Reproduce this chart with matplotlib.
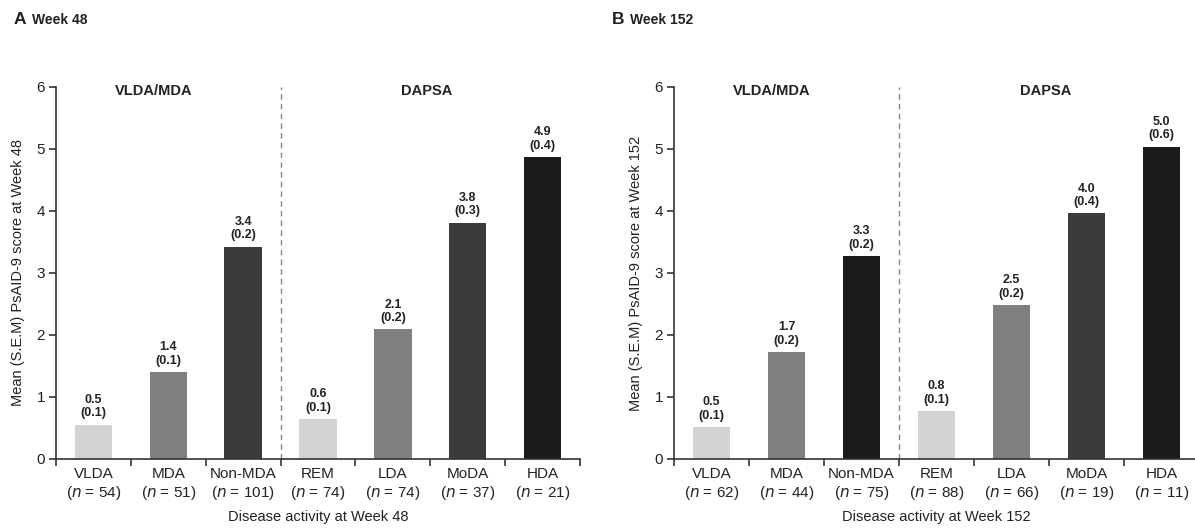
import matplotlib
matplotlib.use("Agg")
import matplotlib.pyplot as plt

plt.rcParams['font.family'] = ['Liberation Sans', 'DejaVu Sans']

categories = ["VLDA", "MDA", "Non-MDA", "REM", "LDA", "MoDA", "HDA"]
n_w48 = [54, 51, 101, 74, 74, 37, 21]
n_w152 = [62, 44, 75, 88, 66, 19, 11]
mean_w48 = [0.55, 1.40, 3.42, 0.64, 2.09, 3.81, 4.87]
sem_w48 = [0.1, 0.1, 0.2, 0.1, 0.2, 0.3, 0.4]
label_mean_w48 = ["0.5", "1.4", "3.4", "0.6", "2.1", "3.8", "4.9"]
mean_w152 = [0.51, 1.72, 3.27, 0.77, 2.48, 3.96, 5.04]
sem_w152 = [0.1, 0.2, 0.2, 0.1, 0.2, 0.4, 0.6]
label_mean_w152 = ["0.5", "1.7", "3.3", "0.8", "2.5", "4.0", "5.0"]
colors_w48 = ["#d3d3d3", "#808080", "#3b3b3b", "#d3d3d3", "#808080", "#3b3b3b", "#1b1b1b"]
colors_w152 = ["#d3d3d3", "#808080", "#1b1b1b", "#d3d3d3", "#808080", "#3b3b3b", "#1b1b1b"]

W, H = 1195, 531
fig = plt.figure(figsize=(W / 100, H / 100), dpi=100)

spine_c = "#333333"


def panel(rect, means, sems, labels, ns, colors, week, letter, letter_x):
    ax = fig.add_axes(rect)
    x = list(range(len(categories)))
    ax.bar(x, means, width=0.5, color=colors, zorder=2)
    for xi, m, s, lab in zip(x, means, sems, labels):
        ax.annotate(f"{lab}\n({s:.1f})", (xi, m), xytext=(0, 4),
                    textcoords="offset points", ha="center", va="bottom",
                    fontsize=9, fontweight="bold", color="#222222",
                    linespacing=1.15)
    ax.set_xlim(-0.5, 6.5)
    ax.set_ylim(0, 6)
    ax.set_yticks(range(0, 7))
    ax.tick_params(axis="y", labelsize=11, length=5, width=1.2, color=spine_c,
                   labelcolor="#222222", pad=3)
    ax.set_xticks([i - 0.5 for i in range(8)])
    ax.set_xticklabels([])
    ax.tick_params(axis="x", which="major", length=5, width=1.2, color=spine_c)
    ax.set_xticks(x, minor=True)
    ax.set_xticklabels([f"{c}\n($\\it{{n}}$ = {n})" for c, n in zip(categories, ns)],
                       minor=True)
    ax.tick_params(axis="x", which="minor", length=0, labelsize=11,
                   labelcolor="#222222", pad=6)
    for sp in ["top", "right"]:
        ax.spines[sp].set_visible(False)
    for sp in ["left", "bottom"]:
        ax.spines[sp].set_color(spine_c)
        ax.spines[sp].set_linewidth(1.2)
    ax.axvline(2.5, ymin=0, ymax=1, color="#888888", lw=1.0,
               linestyle=(0, (4, 3)), zorder=1)
    ax.text(0.8, 5.93, "VLDA/MDA", ha="center", va="center", fontsize=10.5,
            fontweight="bold", color="#222222")
    ax.text(4.45, 5.93, "DAPSA", ha="center", va="center", fontsize=10.5,
            fontweight="bold", color="#222222")
    ax.set_ylabel(f"Mean (S.E.M) PsAID-9 score at Week {week}", fontsize=10.5,
                  color="#222222", labelpad=8)
    ax.set_xlabel(f"Disease activity at Week {week}", fontsize=10.5,
                  color="#222222", labelpad=6)
    fig.text(letter_x / W, 1 - 20 / H, letter, fontsize=12.5, fontweight="bold",
             color="#222222", va="center", ha="left")
    fig.text((letter_x + 18) / W, 1 - 20 / H, f"Week {week}", fontsize=10,
             fontweight="bold", color="#222222", va="center", ha="left")
    return ax


bottom = 1 - 459 / H
height = (459 - 87) / H
panel([56 / W, bottom, 524 / W, height], mean_w48, sem_w48, label_mean_w48,
      n_w48, colors_w48, 48, "A", 14)
panel([674 / W, bottom, 525 / W, height], mean_w152, sem_w152, label_mean_w152,
      n_w152, colors_w152, 152, "B", 612)

fig.savefig("out.png", dpi=100)
